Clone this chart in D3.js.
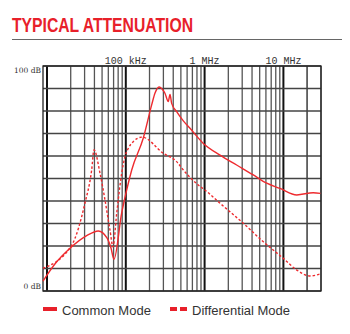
<!DOCTYPE html>
<html>
<head>
<meta charset="utf-8">
<script src="https://cdn.jsdelivr.net/npm/d3@7/dist/d3.min.js"></script>
<style>
  html, body { margin: 0; padding: 0; background: #fff; }
  svg { display: block; }
</style>
</head>
<body>
<svg id="chart" width="350" height="334"></svg>
<script>
// Common-mode attenuation (frequency in Hz, attenuation in dB)
const cmFreq = [8.9e3, 12.6e3, 19.6e3, 31.9e3, 44.8e3, 57.7e3, 64.9e3, 70.8e3, 88.7e3, 102.6e3,
  118.9e3, 166.8e3, 213e3, 235e3, 264e3, 299e3, 314e3, 346e3, 364e3, 382e3, 442e3, 537e3,
  653e3, 964e3, 1.57e6, 2.55e6, 4.15e6, 6.14e6, 9.06e6, 14.8e6, 23.9e6, 29.5e6];
const cmDb = [4.4, 12.0, 19.0, 24.6, 26.7, 23.6, 19.1, 14.1, 34.7, 44.9,
  53.8, 68.0, 82.7, 88.0, 90.7, 89.1, 87.9, 84.2, 87.4, 83.4, 79.7, 75.6,
  72.3, 65.6, 60.4, 56.0, 51.6, 47.9, 45.6, 42.7, 43.7, 43.4];

// Differential-mode attenuation
const dmFreq = [8.9e3, 20.6e3, 30.3e3, 36.9e3, 39.5e3, 47.1e3, 54.5e3, 63e3, 68.8e3, 76.7e3,
  88.7e3, 97.7e3, 107.6e3, 124.5e3, 160.6e3, 299e3, 442e3, 537e3, 832e3, 1.01e6,
  1.57e6, 3.1e6, 5.56e6, 9.98e6, 14.8e6, 21.8e6, 29.5e6];
const dmDb = [10.1, 20.4, 39.0, 53.8, 62.7, 52.3, 40.4, 27.1, 19.6, 34.5,
  52.3, 59.7, 63.4, 66.4, 68.4, 61.2, 57.5, 53.8, 47.1, 44.9,
  39.0, 30.1, 21.9, 14.5, 9.3, 6.7, 7.6];

// Axis annotations
const decadeFreqs = [1e5, 1e6, 1e7];
const decadeLabels = ["100 kHz", "1 MHz", "10 MHz"];
const dbTicks = [0, 10, 20, 30, 40, 50, 60, 70, 80, 90, 100];
const dbLabels = ["0 dB", "100 dB"];
const seriesNames = ["Common Mode", "Differential Mode"];

const red = "#ee2b2f";
const svg = d3.select("#chart");

// Title and rule beneath it
svg.append("text")
  .attr("x", 12).attr("y", 32)
  .attr("font-family", "'Liberation Sans Narrow', 'Liberation Sans', sans-serif")
  .attr("font-weight", "bold")
  .attr("font-size", 20)
  .attr("fill", "#e8202a")
  .attr("textLength", 181)
  .attr("lengthAdjust", "spacingAndGlyphs")
  .text("TYPICAL ATTENUATION");
svg.append("line")
  .attr("x1", 12).attr("x2", 342).attr("y1", 39.5).attr("y2", 39.5)
  .attr("stroke", "#666").attr("stroke-width", 1);

// Scales: log frequency, linear dB
const fMin = 8.9e3, fMax = 30e6;
const x = d3.scaleLog().domain([fMin, fMax]).range([43, 321]);
const y = d3.scaleLinear().domain([0, 100]).range([291, 66]);

const grid = svg.append("g");

// Vertical grid: 1..9 within each decade
const vFreqs = [];
for (let dec = 1e4; dec <= 1e7; dec *= 10) {
  for (let m = 1; m <= 9; m++) {
    const f = dec * m;
    if (f >= fMin && f <= fMax) vFreqs.push({ f, major: m === 1 });
  }
}
vFreqs.push({ f: 2e7, major: false });
grid.selectAll("line.v").data(vFreqs).join("line")
  .attr("class", "v")
  .attr("x1", d => x(d.f)).attr("x2", d => x(d.f))
  .attr("y1", y(100)).attr("y2", y(0))
  .attr("stroke", d => d.major ? "#111" : "#555")
  .attr("stroke-width", d => d.major ? 2 : 1.3);

// Horizontal grid every 10 dB
grid.selectAll("line.h").data(dbTicks).join("line")
  .attr("class", "h")
  .attr("x1", x(fMin)).attr("x2", x(fMax))
  .attr("y1", d => y(d)).attr("y2", d => y(d))
  .attr("stroke", "#444")
  .attr("stroke-width", 1.3);

// Frame
grid.append("rect")
  .attr("x", x(fMin)).attr("y", y(100))
  .attr("width", x(fMax) - x(fMin)).attr("height", y(0) - y(100))
  .attr("fill", "none").attr("stroke", "#222").attr("stroke-width", 1.3);

// Decade labels above the frame
svg.selectAll("text.freq").data(decadeFreqs).join("text")
  .attr("class", "freq")
  .attr("x", d => x(d)).attr("y", 64)
  .attr("text-anchor", "middle")
  .attr("font-family", "'Liberation Mono', 'DejaVu Sans Mono', monospace")
  .attr("font-size", 10)
  .attr("fill", "#333")
  .text((d, i) => decadeLabels[i]);

// dB labels at top and bottom of the frame
svg.selectAll("text.db").data([0, 100]).join("text")
  .attr("class", "db")
  .attr("x", 41)
  .attr("y", d => d === 0 ? y(0) - 2 : y(100) + 7)
  .attr("text-anchor", "end")
  .attr("font-family", "'DejaVu Serif', 'Liberation Serif', serif")
  .attr("font-size", 7.5)
  .attr("fill", "#333")
  .text((d, i) => dbLabels[i]);

// Curves
const line = d3.line()
  .x(d => x(d[0]))
  .y(d => y(d[1]))
  .curve(d3.curveMonotoneX);

const cm = cmFreq.map((f, i) => [f, cmDb[i]]);
const dm = dmFreq.map((f, i) => [f, dmDb[i]]);

svg.append("path")
  .datum(cm)
  .attr("d", line)
  .attr("fill", "none")
  .attr("stroke", red)
  .attr("stroke-width", 1.4);

svg.append("path")
  .datum(dm)
  .attr("d", line)
  .attr("fill", "none")
  .attr("stroke", red)
  .attr("stroke-width", 1.4)
  .attr("stroke-dasharray", "2.5,2");

// Legend
const legend = svg.append("g");
legend.append("rect")
  .attr("x", 43).attr("y", 307).attr("width", 14).attr("height", 4)
  .attr("fill", "#e8202a");
legend.append("text")
  .attr("x", 62).attr("y", 315)
  .attr("font-family", "'Liberation Sans', Arial, sans-serif")
  .attr("font-size", 13)
  .attr("fill", "#333")
  .text(seriesNames[0]);
legend.append("rect")
  .attr("x", 170).attr("y", 307).attr("width", 7).attr("height", 4)
  .attr("fill", "#e8202a");
legend.append("rect")
  .attr("x", 180).attr("y", 307).attr("width", 7).attr("height", 4)
  .attr("fill", "#e8202a");
legend.append("text")
  .attr("x", 192).attr("y", 315)
  .attr("font-family", "'Liberation Sans', Arial, sans-serif")
  .attr("font-size", 13)
  .attr("fill", "#333")
  .text(seriesNames[1]);
</script>
</body>
</html>
